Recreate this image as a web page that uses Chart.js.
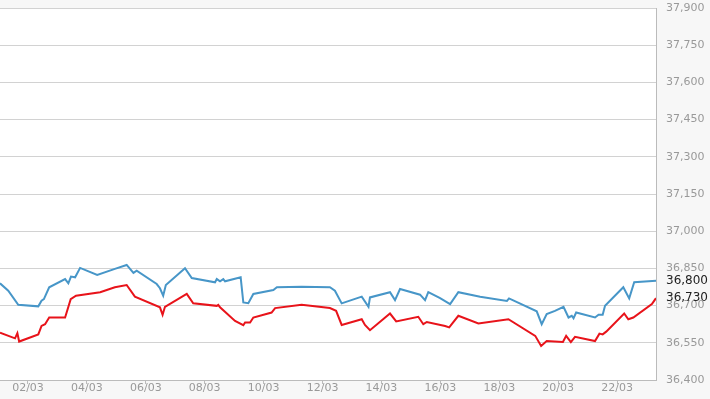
<!DOCTYPE html>
<html>
<head>
<meta charset="utf-8">
<script src="https://cdn.jsdelivr.net/npm/chart.js@4/dist/chart.umd.min.js"></script>
<style>
    html, body { margin: 0; padding: 0; background: #f7f7f7; }
    #wrap { width: 710px; height: 399px; position: relative; }
</style>
</head>
<body>
<div id="wrap"><canvas id="priceChart"></canvas></div>
<script>
// x = day of March (fractional)
const blueDays = [1.05, 1.33, 1.67, 2.35, 2.46, 2.54, 2.72, 3.26, 3.37, 3.46, 3.60, 3.77, 4.35, 4.95, 5.35, 5.58, 5.69, 6.37, 6.48, 6.59, 6.68, 7.33, 7.56, 8.35, 8.41, 8.52, 8.63, 8.69, 9.22, 9.31, 9.48, 9.65, 10.33, 10.45, 11.29, 12.25, 12.42, 12.65, 13.33, 13.56, 13.61, 14.29, 14.46, 14.63, 15.31, 15.48, 15.59, 15.99, 16.33, 16.61, 17.35, 18.26, 18.33, 19.27, 19.44, 19.61, 19.89, 20.18, 20.35, 20.46, 20.52, 20.61, 21.25, 21.37, 21.51, 21.59, 22.21, 22.41, 22.58, 23.32];
const blueValues = [36790, 36760, 36703, 36697, 36720, 36726, 36774, 36807, 36790, 36817, 36814, 36852, 36824, 36848, 36864, 36832, 36841, 36787, 36770, 36740, 36783, 36851, 36811, 36794, 36807, 36798, 36807, 36798, 36814, 36713, 36710, 36747, 36763, 36774, 36776, 36774, 36760, 36709, 36736, 36695, 36733, 36754, 36722, 36767, 36744, 36722, 36754, 36730, 36706, 36754, 36736, 36719, 36729, 36677, 36625, 36666, 36679, 36695, 36652, 36659, 36649, 36672, 36652, 36663, 36663, 36699, 36774, 36729, 36794, 36800];

const redDays = [1.05, 1.56, 1.64, 1.70, 2.35, 2.46, 2.58, 2.72, 3.26, 3.45, 3.63, 4.45, 4.95, 5.35, 5.63, 6.48, 6.57, 6.65, 7.39, 7.61, 8.41, 8.46, 8.52, 9.03, 9.31, 9.37, 9.54, 9.65, 10.27, 10.39, 11.29, 12.25, 12.46, 12.65, 13.33, 13.44, 13.61, 14.29, 14.50, 15.25, 15.42, 15.54, 16.16, 16.30, 16.61, 17.29, 18.31, 19.22, 19.42, 19.61, 20.16, 20.27, 20.43, 20.57, 21.25, 21.40, 21.51, 21.63, 22.24, 22.38, 22.55, 23.18, 23.32];
const redValues = [36591, 36568, 36589, 36555, 36584, 36618, 36625, 36652, 36652, 36726, 36740, 36754, 36774, 36783, 36736, 36693, 36663, 36695, 36747, 36709, 36699, 36703, 36693, 36638, 36621, 36632, 36632, 36652, 36672, 36690, 36703, 36690, 36679, 36622, 36645, 36622, 36601, 36668, 36636, 36655, 36625, 36634, 36618, 36612, 36659, 36628, 36645, 36578, 36537, 36557, 36553, 36578, 36553, 36574, 36557, 36587, 36584, 36595, 36668, 36645, 36652, 36706, 36730];

const xTickDays = [2, 4, 6, 8, 10, 12, 14, 16, 18, 20, 22];
const xTickLabels = ['02/03', '04/03', '06/03', '08/03', '10/03', '12/03', '14/03', '16/03', '18/03', '20/03', '22/03'];
const yTicks = [36400, 36550, 36700, 36850, 37000, 37150, 37300, 37450, 37600, 37750, 37900];

const fmt = v => v.toLocaleString('en-US');
const FONT = 'DejaVu Sans';

const toPoints = (xs, ys) => xs.map((x, i) => ({ x: x, y: ys[i] }));

// white plot area on grey page
const plotBg = {
    id: 'plotBg',
    beforeDraw(chart) {
        const { ctx, chartArea: a } = chart;
        ctx.save();
        ctx.fillStyle = '#ffffff';
        ctx.fillRect(a.left, a.top, a.right - a.left, a.bottom - a.top);
        ctx.restore();
    }
};

// last value labels on the right axis
const lastLabels = {
    id: 'lastLabels',
    afterDraw(chart) {
        const { ctx, chartArea: a } = chart;
        const y = chart.scales.y;
        ctx.save();
        ctx.font = '12px "' + FONT + '"';
        ctx.fillStyle = '#222222';
        ctx.textAlign = 'left';
        ctx.textBaseline = 'middle';
        chart.data.datasets.forEach(ds => {
            const v = ds.data[ds.data.length - 1].y;
            ctx.fillText(fmt(v), a.right + 10, y.getPixelForValue(v));
        });
        ctx.restore();
    }
};

const ctx = document.getElementById('priceChart').getContext('2d');
const priceChart = new Chart(ctx, {
    type: 'line',
    data: {
        datasets: [{
            label: 'Blue',
            data: toPoints(blueDays, blueValues),
            borderColor: '#4796c8',
            borderWidth: 2,
            pointRadius: 0,
            tension: 0,
            fill: false
        }, {
            label: 'Red',
            data: toPoints(redDays, redValues),
            borderColor: '#e8131a',
            borderWidth: 2,
            pointRadius: 0,
            tension: 0,
            fill: false
        }]
    },
    options: {
        responsive: true,
        maintainAspectRatio: false,
        animation: false,
        events: [],
        layout: { padding: 0 },
        plugins: {
            legend: { display: false },
            tooltip: { enabled: false }
        },
        scales: {
            x: {
                type: 'linear',
                min: 1.05,
                max: 23.32,
                afterBuildTicks: s => { s.ticks = xTickDays.map(v => ({ value: v })); },
                afterFit: s => { s.height = 19; },
                grid: { drawOnChartArea: false, drawTicks: true, tickLength: 4, color: '#bbbbbb' },
                border: { display: true, color: '#bbbbbb' },
                ticks: {
                    autoSkip: false,
                    maxRotation: 0,
                    padding: -2,
                    color: '#999999',
                    font: { family: FONT, size: 11 },
                    callback: (v) => xTickLabels[xTickDays.indexOf(v)]
                }
            },
            y: {
                position: 'right',
                min: 36400,
                max: 37900,
                afterBuildTicks: s => { s.ticks = yTicks.map(v => ({ value: v })); },
                afterFit: s => { s.width = 54; s.paddingTop = 8; s.paddingBottom = 0; },
                grid: { color: '#d2d2d2', drawTicks: false },
                border: { display: true, color: '#bbbbbb' },
                ticks: {
                    padding: 10,
                    color: '#999999',
                    font: { family: FONT, size: 11 },
                    callback: v => fmt(v)
                }
            }
        }
    },
    plugins: [plotBg, lastLabels]
});
</script>
</body>
</html>
